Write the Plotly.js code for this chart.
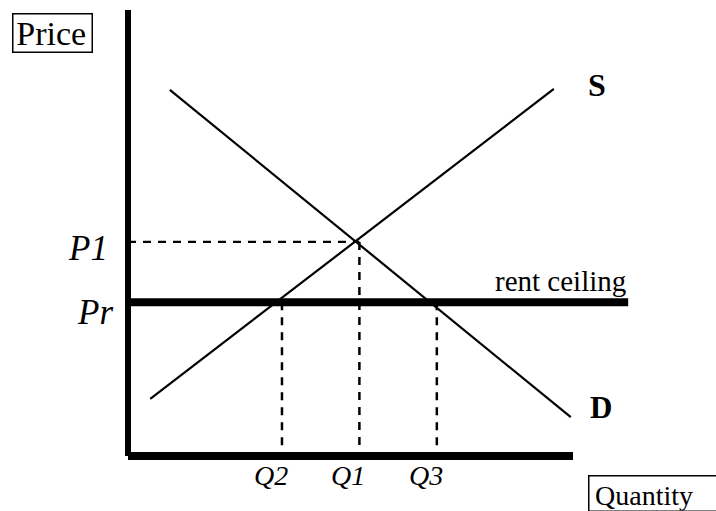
<!DOCTYPE html>
<html>
<head>
<meta charset="utf-8">
<script src="https://cdn.plot.ly/plotly-3.0.1.min.js"></script>
<style>html,body{margin:0;padding:0;background:#fff;}#chart{width:716px;height:511px;}</style>
</head>
<body>
<div id="chart"></div>
<script>
// Abstract quantity / price units (0..100 along each axis)
var supplyQ = [5, 95.7];
var supplyP = [12.8, 82.3];
var demandQ = [9.4, 99.5];
var demandP = [82.1, 8.7];
var P1 = 48.0, Q1 = 52.0;
var Pr = 34.5, Q2 = 34.6, Q3 = 69.4;
var ceilingEnd = 112.4;
var axisQmax = 100, axisPmax = 100;
var qLabels = ["Q2", "Q1", "Q3"];
var qValues = [Q2, Q1, Q3];

var black = '#000';
var dash = '8px,7px';

var traces = [
  // axes
  {x: [0, 0], y: [0, axisPmax], mode: 'lines', line: {color: black, width: 6}},
  {x: [0, axisQmax], y: [0, 0], mode: 'lines', line: {color: black, width: 8}},
  // rent ceiling
  {x: [0, ceilingEnd], y: [Pr, Pr], mode: 'lines', line: {color: black, width: 8}},
  // supply & demand
  {x: supplyQ, y: supplyP, mode: 'lines', line: {color: black, width: 2.2}},
  {x: demandQ, y: demandP, mode: 'lines', line: {color: black, width: 2.2}},
  // dashed guides
  {x: [0, Q1], y: [P1, P1], mode: 'lines', line: {color: black, width: 2.2, dash: dash}},
  {x: [Q1, Q1], y: [P1, 0], mode: 'lines', line: {color: black, width: 2.5, dash: dash}},
  {x: [Q2, Q2], y: [Pr, 0], mode: 'lines', line: {color: black, width: 2.5, dash: dash}},
  {x: [Q3, Q3], y: [Pr, 0], mode: 'lines', line: {color: black, width: 2.5, dash: dash}}
];

var serif = 'Liberation Serif, Times New Roman, serif';
var ann = [];
ann.push({xref: 'paper', yref: 'paper', x: 12/716, y: 1 - 13/511, xanchor: 'left', yanchor: 'top',
  text: '&#8202;Price', showarrow: false, font: {family: serif, size: 34, color: black},
  width: 78, align: 'left', height: 37, valign: 'middle',
  bordercolor: black, borderwidth: 1.5, borderpad: 0});
ann.push({xref: 'paper', yref: 'paper', x: 588/716, y: 1 - 475/511, xanchor: 'left', yanchor: 'top',
  text: '&#8201;Quantity', showarrow: false, font: {family: serif, size: 28, color: black}, align: 'left',
  width: 150, height: 34, valign: 'bottom', bordercolor: black, borderwidth: 1.5, borderpad: 0});
ann.push({x: supplyQ[1], y: supplyP[1], xanchor: 'left', yanchor: 'middle', xshift: 32, yshift: 4,
  text: '<b>S</b>', showarrow: false, font: {family: serif, size: 32, color: black}});
ann.push({x: demandQ[1], y: demandP[1], xanchor: 'left', yanchor: 'middle', xshift: 17, yshift: 10,
  text: '<b>D</b>', showarrow: false, font: {family: serif, size: 31, color: black}});
ann.push({x: ceilingEnd, y: Pr, xanchor: 'right', yanchor: 'bottom', xshift: 0, yshift: 3,
  text: 'rent ceiling', showarrow: false, font: {family: serif, size: 29, color: black}});
ann.push({x: 0, y: P1, xanchor: 'right', yanchor: 'middle', xshift: -18, yshift: -7,
  text: '<i>P1</i>', showarrow: false, font: {family: serif, size: 35, color: black}});
ann.push({x: 0, y: Pr, xanchor: 'right', yanchor: 'middle', xshift: -13, yshift: -10,
  text: '<i>Pr</i>', showarrow: false, font: {family: serif, size: 35, color: black}});
for (var i = 0; i < qLabels.length; i++) {
  ann.push({x: qValues[i], y: 0, xanchor: 'center', yanchor: 'top', xshift: -11, yshift: -2,
    text: '<i>' + qLabels[i] + '</i>', showarrow: false, font: {family: serif, size: 28, color: black}});
}

var pxPerQ = 4.45, pxPerP = 4.46, ox = 128, oy = 456;
var layout = {
  width: 716, height: 511,
  margin: {l: 0, r: 0, t: 0, b: 0},
  paper_bgcolor: '#fff', plot_bgcolor: '#fff',
  showlegend: false,
  xaxis: {visible: false, range: [-ox/pxPerQ, (716-ox)/pxPerQ], fixedrange: true},
  yaxis: {visible: false, range: [(oy-511)/pxPerP, oy/pxPerP], fixedrange: true},
  annotations: ann
};
Plotly.newPlot('chart', traces, layout, {displayModeBar: false, staticPlot: true});
</script>
</body>
</html>
